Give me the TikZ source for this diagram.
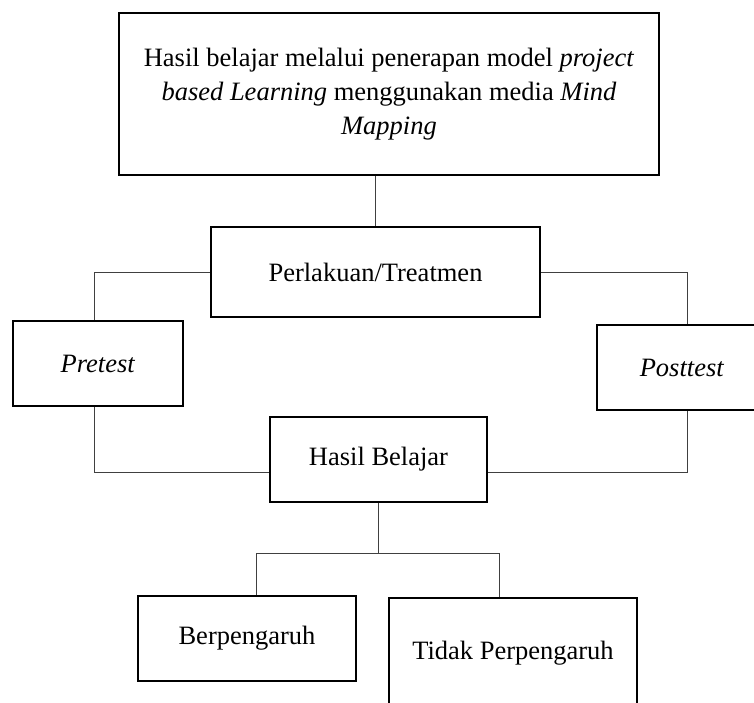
\documentclass[tikz,border=0pt]{standalone}
\usepackage{fontspec}
\setmainfont{Liberation Serif}
\usetikzlibrary{calc}
\tikzset{
	kotak/.style={draw, line width=2.5pt, inner sep=0pt, align=center, font=\fontsize{26.5}{34}\selectfont},
	garis/.style={draw=black!75, line width=1pt}
}
\begin{document}
\begin{tikzpicture}[x=1pt, y=-1pt]
	%%%%% START %%%%%
	\useasboundingbox (0,0) rectangle (754,702);
	\clip (0,0) rectangle (754,702);
	\fill[white] (0,0) rectangle (754,702);
	
	\node[kotak, minimum width=540, minimum height=162] (judul) at (389,94) {Hasil belajar melalui penerapan model \textit{project}\\ \textit{based Learning} menggunakan media \textit{Mind}\\ \textit{Mapping}};
	\node[kotak, minimum width=329, minimum height=90] (perlakuan) at (375.5,272) {Perlakuan/Treatmen};
	\node[kotak, minimum width=170, minimum height=85] (pretest) at (98,363.5) {\textit{Pretest}};
	\node[kotak, minimum width=170, minimum height=85] (posttest) at (682,367.5) {\textit{Posttest}};
	\node[kotak, minimum width=217, minimum height=85] (hasil) at (378.5,459.5) {Hasil Belajar};
	\node[kotak, minimum width=218, minimum height=85] (ber) at (247,638.5) {Berpengaruh};
	\node[kotak, minimum width=248, minimum height=110] (tidak) at (513,653) {Tidak Perpengaruh};
	
	\coordinate (kiri) at (94,472);
	\coordinate (kanan) at (687,472);
	\coordinate (cabangkiri) at (256,553);
	\coordinate (cabangkanan) at (499,553);
	
	\draw[garis] (perlakuan.north) -- (perlakuan.north |- judul.south);
	\draw[garis] (perlakuan.west) -| (pretest.north -| kiri);
	\draw[garis] (perlakuan.east) -| (posttest.north -| kanan);
	\draw[garis] (pretest.south -| kiri) -- (kiri) -- (hasil.west |- kiri);
	\draw[garis] (posttest.south -| kanan) -- (kanan) -- (hasil.east |- kanan);
	\draw[garis] (hasil.south) -- (hasil.south |- cabangkiri);
	\draw[garis] (ber.north -| cabangkiri) -- (cabangkiri) -- (cabangkanan) -- (tidak.north -| cabangkanan);
	%%%%% END %%%%%
\end{tikzpicture}
\end{document}
